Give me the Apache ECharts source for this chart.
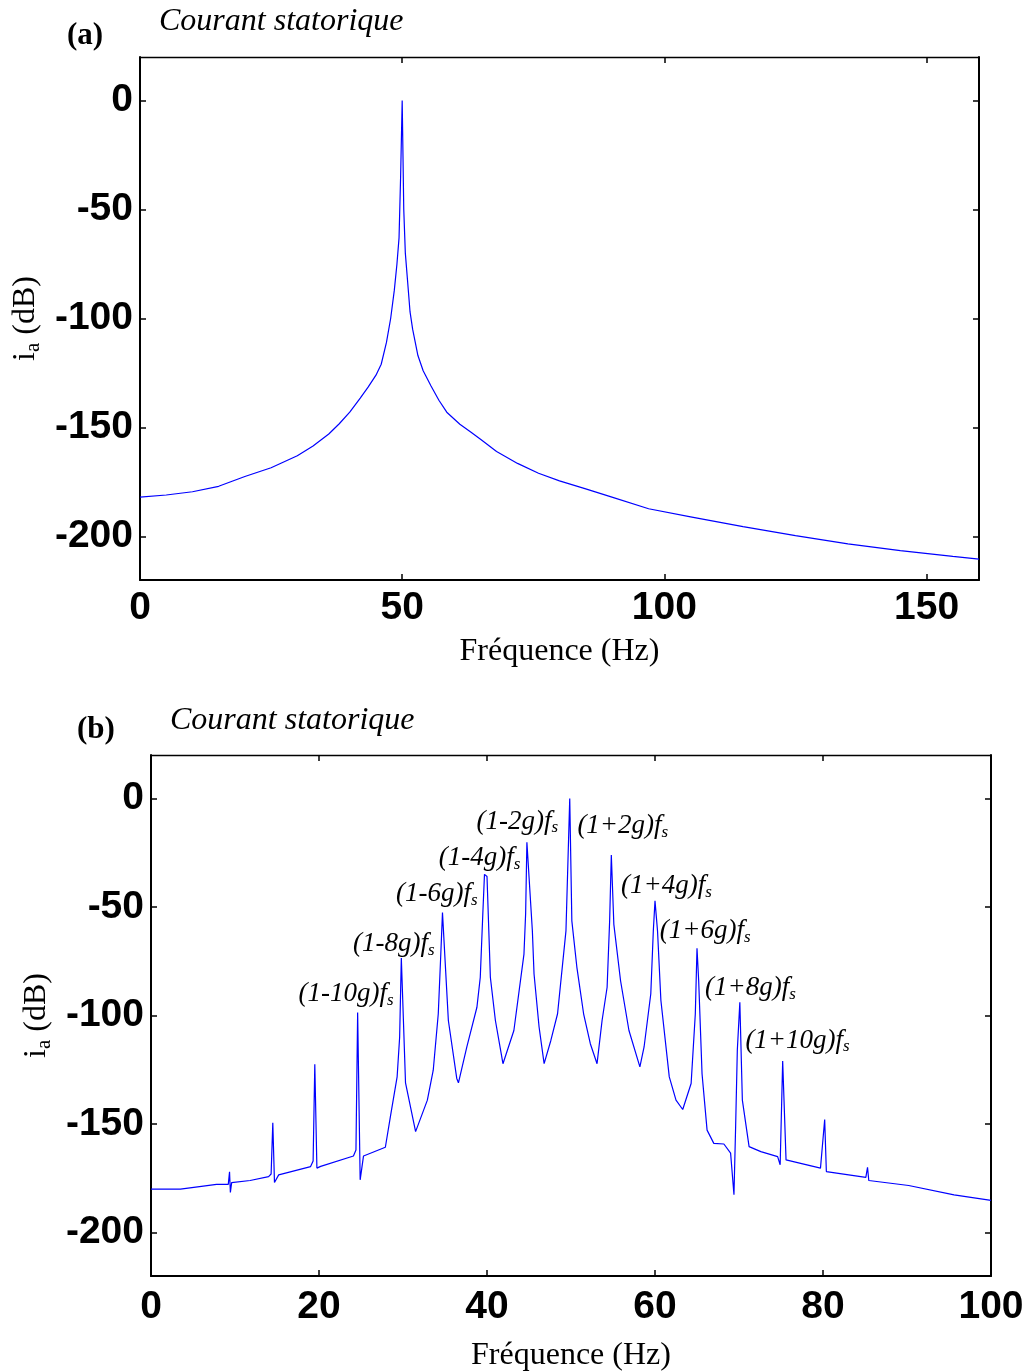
<!DOCTYPE html>
<html><head><meta charset="utf-8">
<script src="https://cdn.jsdelivr.net/npm/echarts@6/dist/echarts.min.js"></script>
<style>html,body{margin:0;padding:0;background:#fff}#c{width:1028px;height:1372px}</style>
</head><body><div id="c"></div>
<script>
// ---- Chart (a): stator current spectrum, healthy ----
const freqA = [0, 5, 10, 15, 20, 25, 30, 33, 36, 38, 40, 42, 43.5, 45, 46, 47, 47.8, 48.5, 49, 49.4, 49.7, 50, 50.3, 50.6, 51, 51.5, 52, 53, 54, 55.5, 57, 58.5, 61, 63, 65, 68, 72, 76, 80, 85, 90, 97, 105, 115, 125, 135, 145, 155, 160];
const dbA   = [-182, -181, -179.5, -177, -172.5, -168.5, -163, -158.5, -153, -148.3, -143, -136.5, -131.5, -126, -121, -111, -100, -87, -75, -63, -35, 0, -50, -70, -82, -97, -105, -117, -124, -131, -137.5, -143, -148.5, -152, -155.5, -161, -166.5, -171, -174.5, -178.2, -182, -187.3, -191, -195.5, -199.6, -203.4, -206.5, -209.2, -210.4];

// ---- Chart (b): stator current spectrum with fault harmonics ----
const freqB = [0, 3.5, 6, 7.8, 9.2, 9.35, 9.45, 9.6, 11.8, 14.0, 14.3, 14.5, 14.7, 15.2, 19.0, 19.3, 19.5, 19.75, 20.2, 24.1, 24.4, 24.6, 24.9, 25.3, 27.9, 28.5, 29.3, 29.6, 29.8, 30.0, 30.3, 31.5, 32.9, 33.6, 34.2, 34.5, 34.7, 34.9, 35.4, 36.4, 36.6, 37.6, 38.8, 39.2, 39.5, 39.7, 40.0, 40.4, 41.0, 41.9, 43.2, 44.4, 44.6, 44.75, 44.9, 45.4, 45.6, 46.2, 46.8, 47.6, 48.4, 49.4, 49.85, 50.1, 50.7, 51.5, 52.3, 53.1, 53.7, 54.3, 54.6, 54.8, 55.1, 55.9, 56.9, 58.2, 58.7, 59.5, 59.8, 60.0, 60.3, 60.7, 61.7, 62.5, 63.3, 64.3, 64.8, 65.0, 65.2, 65.6, 66.2, 67.0, 68.2, 69.0, 69.4, 69.6, 69.8, 70.1, 70.4, 71.2, 72.6, 74.6, 74.9, 75.2, 75.6, 79.7, 80.2, 80.4, 85.1, 85.3, 85.45, 90.2, 90.3, 90.4, 95.6, 100];
const dbB   = [-180, -180, -178.7, -177.8, -177.8, -172, -181.5, -177, -176, -174.2, -173, -149.4, -176.9, -173.4, -169.6, -167, -122.5, -170.3, -169.5, -164.7, -162, -98.6, -175.7, -164.7, -160.7, -146.6, -128.3, -110, -73.5, -74, -131, -153.5, -139, -125.2, -99.2, -71.7, -52.6, -53, -102.3, -129, -131, -114.5, -96.2, -82.4, -53.4, -35, -36, -82.4, -102.3, -122.2, -106.9, -71.7, -53, -20.2, -21, -61, -80.9, -105.3, -122.2, -111.5, -99.2, -61, 0, -56.4, -77.8, -99.2, -113, -122.2, -102.3, -87, -56.4, -26.1, -58, -84, -106.9, -123.7, -114.5, -90, -61, -47.2, -61, -93, -128.3, -139, -143.3, -131.3, -99.2, -69, -84, -126.8, -152.8, -158.9, -159.2, -163.4, -182.6, -151, -116, -93.9, -139, -160.4, -162.7, -165, -168.8, -121, -166.5, -170.3, -147.9, -171.9, -174.6, -169.9, -176, -178.3, -177.5, -179, -182.6, -185.2];

// ---- Tick values ----
const xTicksA = [0, 50, 100, 150];
const xTicksB = [0, 20, 40, 60, 80, 100];
const yTicks  = [-200, -150, -100, -50, 0];

// ---- Harmonic annotations in chart (b): text, anchor frequency, anchor dB ----
const annoText = ['(1-10g)', '(1-8g)', '(1-6g)', '(1-4g)', '(1-2g)', '(1+2g)', '(1+4g)', '(1+6g)', '(1+8g)', '(1+10g)'];
const annoFreq = [17.5, 24.0, 29.1, 34.2, 38.7, 50.7, 55.9, 60.5, 65.9, 70.7];
const annoDb   = [-89.9, -67, -44, -27.5, -10.6, -12.8, -40.4, -61, -87.2, -111.5];

const SERIF = 'Liberation Serif, Times New Roman, serif';
const SANS = 'Liberation Sans, Arial, sans-serif';

function pairs(xs, ys) { return xs.map((x, i) => [x, ys[i]]); }

function xAxis(grid, max, ticks, pos, nameGap, labelMargin) {
  const bottom = pos === 'bottom';
  return {
    type: 'value', gridIndex: grid, position: pos, min: 0, max: max,
    name: bottom ? 'Fréquence (Hz)' : '', nameLocation: 'middle', nameGap: nameGap,
    nameTextStyle: { fontFamily: SERIF, fontSize: 32, color: '#000' },
    axisLine: { show: true, onZero: false, lineStyle: { color: '#000', width: bottom ? 2 : 1.3 } },
    axisTick: { show: true, inside: true, length: 6, customValues: ticks, lineStyle: { color: '#000', width: 1.5 } },
    axisLabel: { show: bottom, customValues: ticks, margin: labelMargin, fontFamily: SANS, fontWeight: 'bold', fontSize: 39, color: '#000' },
    splitLine: { show: false }
  };
}
function yAxis(grid, pos, nameGap) {
  const left = pos === 'left';
  return {
    type: 'value', gridIndex: grid, position: pos, min: -220, max: 20,
    name: left ? '{i|i}{s|a}{n| (dB)}' : '', nameLocation: 'middle', nameGap: nameGap,
    nameTextStyle: {
      color: '#000',
      rich: {
        i: { fontFamily: SERIF, fontSize: 32, color: '#000', lineHeight: 36 },
        s: { fontFamily: SERIF, fontSize: 21, color: '#000', lineHeight: 36, verticalAlign: 'bottom' },
        n: { fontFamily: SERIF, fontSize: 32, color: '#000', lineHeight: 36 }
      }
    },
    axisLine: { show: true, onZero: false, lineStyle: { color: '#000', width: 2 } },
    axisTick: { show: true, inside: true, length: 6, customValues: yTicks, lineStyle: { color: '#000', width: 1.5 } },
    axisLabel: { show: left, customValues: yTicks, margin: 7, fontFamily: SANS, fontWeight: 'bold', fontSize: 39, color: '#000' },
    splitLine: { show: false }
  };
}

const chart = echarts.init(document.getElementById('c'), null, { renderer: 'canvas' });
chart.setOption({
  animation: false,
  backgroundColor: '#fff',
  title: [
    { text: '(a)', left: 62, top: 15, textStyle: { fontFamily: SERIF, fontWeight: 'bold', fontSize: 31, color: '#000' } },
    { text: 'Courant statorique', left: 154, top: 1, textStyle: { fontFamily: SERIF, fontStyle: 'italic', fontWeight: 'normal', fontSize: 32, color: '#000' } },
    { text: '(b)', left: 72, top: 709, textStyle: { fontFamily: SERIF, fontWeight: 'bold', fontSize: 31, color: '#000' } },
    { text: 'Courant statorique', left: 165, top: 700, textStyle: { fontFamily: SERIF, fontStyle: 'italic', fontWeight: 'normal', fontSize: 32, color: '#000' } }
  ],
  grid: [
    { left: 140, top: 57, width: 839, height: 523, containLabel: false, outerBoundsMode: 'none' },
    { left: 151, top: 755, width: 840, height: 521, containLabel: false, outerBoundsMode: 'none' }
  ],
  xAxis: [
    xAxis(0, 160, xTicksA, 'bottom', 56, 9),
    xAxis(0, 160, xTicksA, 'top', 0, 0),
    xAxis(1, 100, xTicksB, 'bottom', 64, 12),
    xAxis(1, 100, xTicksB, 'top', 0, 0)
  ],
  yAxis: [
    yAxis(0, 'left', 95),
    yAxis(0, 'right', 0),
    yAxis(1, 'left', 93),
    yAxis(1, 'right', 0)
  ],
  series: [
    { type: 'line', xAxisIndex: 0, yAxisIndex: 0, data: pairs(freqA, dbA), showSymbol: false, lineStyle: { color: '#0000ff', width: 1.2 }, clip: true },
    { type: 'line', xAxisIndex: 2, yAxisIndex: 2, data: pairs(freqB, dbB), showSymbol: false, lineStyle: { color: '#0000ff', width: 1.2 }, clip: true },
    {
      type: 'scatter', xAxisIndex: 2, yAxisIndex: 2, silent: true, symbolSize: 1,
      itemStyle: { color: 'rgba(0,0,0,0)' },
      data: annoText.map((t, i) => [annoFreq[i], annoDb[i], t]),
      label: {
        show: true, position: 'right', distance: 0, color: '#000', opacity: 1,
        formatter: p => '{t|' + p.data[2] + 'f}{s|s}',
        rich: {
          t: { fontFamily: SERIF, fontStyle: 'italic', fontSize: 27, color: '#000', opacity: 1, lineHeight: 30 },
          s: { fontFamily: SERIF, fontStyle: 'italic', fontSize: 17, color: '#000', opacity: 1, lineHeight: 30, verticalAlign: 'bottom' }
        }
      },
      emphasis: { disabled: true }
    }
  ]
});
</script>
</body></html>
